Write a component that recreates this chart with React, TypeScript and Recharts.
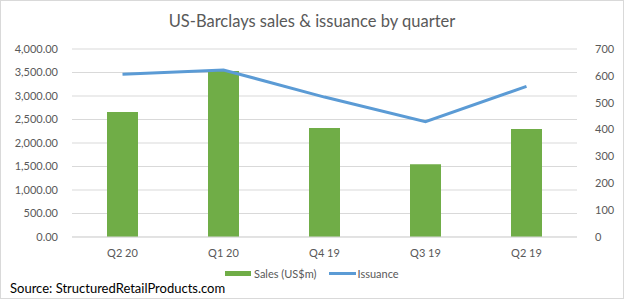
import React from 'react';
import {
  ComposedChart,
  Bar,
  Line,
  XAxis,
  YAxis,
  CartesianGrid,
  Legend,
} from 'recharts';

const quarters = ['Q2 20', 'Q1 20', 'Q4 19', 'Q3 19', 'Q2 19'];
const sales = [2660, 3530, 2320, 1550, 2300];
const issuance = [606, 622, 521, 429, 561];
const salesTicks = [0, 500, 1000, 1500, 2000, 2500, 3000, 3500, 4000];
const issuanceTicks = [0, 100, 200, 300, 400, 500, 600, 700];

const data = quarters.map((q, i) => ({
  quarter: q,
  sales: sales[i],
  issuance: issuance[i],
}));

const FONT = 'Lato, "Open Sans", sans-serif';
const GREY = '#595959';

const fmt = (v: number) =>
  v.toLocaleString('en-US', { minimumFractionDigits: 2, maximumFractionDigits: 2 });

// legend drawn by hand so it sits where the original does
const LegendBox = () => (
  <div
    style={{
      display: 'flex',
      alignItems: 'center',
      fontFamily: FONT,
      fontSize: 11,
      color: GREY,
      paddingLeft: 224,
      paddingTop: 9,
    }}
  >
    <span style={{ width: 26, height: 5, background: '#70ad47', marginRight: 3 }} />
    <span style={{ marginRight: 12 }}>Sales (US$m)</span>
    <span style={{ width: 27, height: 3, background: '#5b9bd5', marginRight: 2 }} />
    <span>Issuance</span>
  </div>
);

const App = () => {
  return (
    <div
      style={{
        position: 'absolute',
        left: 0,
        top: 0,
        width: 622,
        height: 297,
        border: '1px solid #d9d9d9',
        background: '#fff',
        fontFamily: FONT,
      }}
    >
      <div
        style={{
          position: 'absolute',
          top: 10,
          width: '100%',
          textAlign: 'center',
          fontSize: 16.5,
          color: GREY,
        }}
      >
        US-Barclays sales &amp; issuance by quarter
      </div>
      <ComposedChart
        width={622}
        height={297}
        data={data}
        margin={{ top: 48, right: 0, left: 0, bottom: 0 }}
        style={{ position: 'absolute', left: 0, top: 0 }}
      >
        <CartesianGrid vertical={false} stroke="#d9d9d9" yAxisId="left" />
        <XAxis
          dataKey="quarter"
          height={21}
          tickLine={false}
          axisLine={{ stroke: '#d9d9d9' }}
          tick={{ fill: GREY, fontSize: 11, fontFamily: FONT }}
          tickMargin={6}
        />
        <YAxis
          yAxisId="left"
          orientation="left"
          width={71}
          domain={[0, 4000]}
          ticks={salesTicks}
          tickFormatter={fmt}
          axisLine={false}
          tickLine={false}
          tickMargin={8}
          tick={{ fill: GREY, fontSize: 11, fontFamily: FONT }}
        />
        <YAxis
          yAxisId="right"
          orientation="right"
          width={46}
          domain={[0, 700]}
          ticks={issuanceTicks}
          axisLine={false}
          tickLine={false}
          tickMargin={12}
          tick={{ fill: GREY, fontSize: 11, fontFamily: FONT, textAnchor: 'start' }}
        />
        <Bar
          yAxisId="left"
          dataKey="sales"
          name="Sales (US$m)"
          fill="#70ad47"
          barSize={31}
          isAnimationActive={false}
        />
        <Line
          yAxisId="right"
          dataKey="issuance"
          name="Issuance"
          type="linear"
          stroke="#5b9bd5"
          strokeWidth={3}
          dot={false}
          isAnimationActive={false}
        />
        <Legend verticalAlign="bottom" height={40} content={() => <LegendBox />} />
      </ComposedChart>
      <div
        style={{
          position: 'absolute',
          left: 9,
          top: 279,
          fontSize: 13,
          color: '#000',
        }}
      >
        Source: StructuredRetailProducts.com
      </div>
    </div>
  );
};

export default App;
